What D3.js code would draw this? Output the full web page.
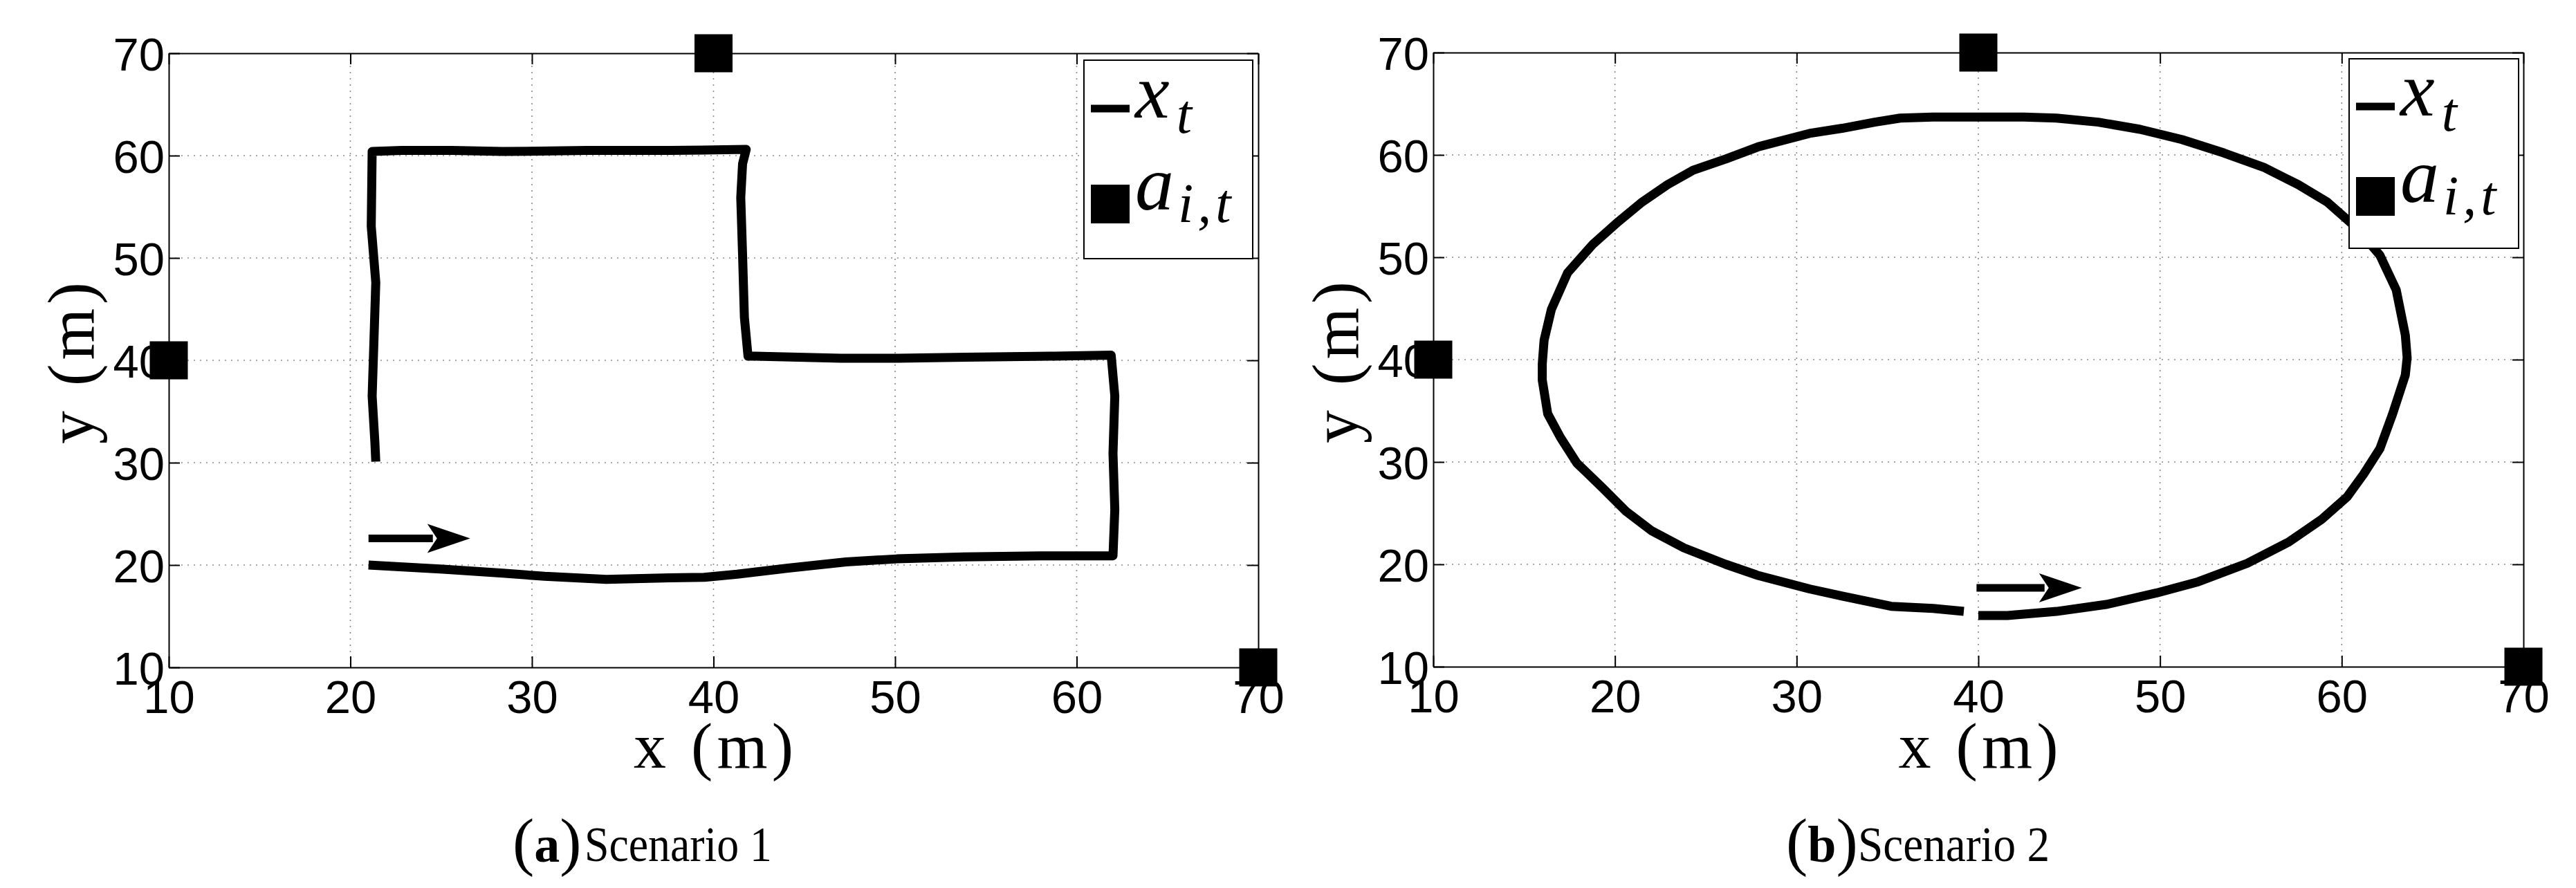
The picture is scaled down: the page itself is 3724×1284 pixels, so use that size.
<!DOCTYPE html>
<html>
<head>
<meta charset="utf-8">
<script src="https://d3js.org/d3.v7.min.js"></script>
<style>
body { margin:0; background:#fff; }
svg { display:block; }
.tick text { font-family:"Liberation Sans", Arial, sans-serif; font-size:67px; fill:#000; }
.axis path, .axis line { stroke:#000; stroke-width:2; }
.grid line { stroke:#8a8a8a; stroke-width:1.6; stroke-dasharray:2,7; }
.serif { font-family:"Liberation Serif", "Times New Roman", serif; fill:#000; }
</style>
</head>
<body>
<script>
// ticks shared by both axes of both panels
var ticks = [10, 20, 30, 40, 50, 60, 70];
var gridTicks = [20, 30, 40, 50, 60];

// anchor positions a_i,t (same in both scenarios)
var anchorX = [40, 10, 70];
var anchorY = [70, 40, 10];

// scenario 1 trajectory (L shape)
var path1X = [21.0, 25.1, 28.4, 30.7, 34.1, 37.6, 39.5, 41.3, 44.1, 47.3, 50.1, 53.8, 58.0, 60.3, 62.0,
              62.1, 62.0, 62.1, 61.9, 58.5, 53.9, 50.2, 47.0, 42.3, 41.9, 41.7, 41.6, 41.5, 41.6, 41.8,
              37.6, 33.0, 28.4, 25.6, 22.8, 21.2, 21.15, 21.4, 21.3, 21.2, 21.35, 21.4];
var path1Y = [20.0, 19.6, 19.2, 18.9, 18.6, 18.75, 18.8, 19.1, 19.7, 20.3, 20.6, 20.8, 20.9, 20.9, 20.9,
              25.4, 30.9, 36.5, 40.5, 40.4, 40.3, 40.2, 40.2, 40.4, 40.4, 44.2, 50.3, 55.9, 59.2, 60.6,
              60.5, 60.5, 60.4, 60.5, 60.5, 60.4, 53.1, 47.6, 42.0, 36.5, 32.0, 30.1];

// scenario 2 trajectory (ellipse)
var path2X = [40.0, 41.6, 44.3, 47.1, 49.8, 52.1, 54.8, 57.1, 58.9, 60.3, 61.2, 62.1, 62.8, 63.5, 63.6,
              63.5, 63.0, 62.1, 60.8, 59.2, 57.6, 55.7, 53.5, 51.2, 48.9, 46.6, 44.3, 42.5, 41.1, 39.8,
              37.5, 35.7, 34.3, 32.5, 30.7, 27.9, 26.1, 24.3, 22.9, 21.5, 20.2, 18.8, 17.4, 16.5, 16.1,
              16.0, 16.0, 16.3, 17.0, 17.9, 19.3, 20.6, 22.0, 23.8, 26.1, 27.9, 30.7, 32.5, 35.2, 37.5, 39.2];
var path2Y = [15.0, 15.0, 15.4, 16.1, 17.2, 18.3, 20.1, 22.2, 24.4, 26.6, 28.8, 31.3, 34.7, 38.5, 40.2,
              42.4, 46.8, 50.2, 52.9, 55.4, 57.1, 58.8, 60.2, 61.5, 62.5, 63.2, 63.6, 63.7, 63.7, 63.7,
              63.7, 63.6, 63.2, 62.6, 62.1, 60.8, 59.6, 58.5, 57.1, 55.4, 53.5, 51.3, 48.5, 44.9, 41.9,
              39.6, 38.0, 34.7, 32.4, 29.9, 27.5, 25.2, 23.3, 21.6, 20.0, 18.9, 17.6, 16.9, 15.9, 15.7, 15.4];

// direction arrows [start, tip] and height
var arrow1X = [21.0, 26.6], arrow1Y = 22.6;
var arrow2X = [39.9, 45.7], arrow2Y = 17.7;

var letters = ["a", "b"];
var captions = ["Scenario 1", "Scenario 2"];

var width = 3724, height = 1284;

var panels = [
  { left:244, right:1819, top:77, bottom:965, px:path1X, py:path1Y, ax:arrow1X, ay:arrow1Y,
    capX:741, capW:271, legend:{ x0:1567, x1:1811, y0:87, y1:374, lineY:157, sqY:295 } },
  { left:2072, right:3648, top:76, bottom:964, px:path2X, py:path2Y, ax:arrow2X, ay:arrow2Y,
    capX:2582, capW:277, legend:{ x0:3396, x1:3641, y0:85, y1:359, lineY:154, sqY:284 } }
];

var svg = d3.select("body").append("svg")
    .attr("width", width)
    .attr("height", height);

svg.append("rect").attr("width", width).attr("height", height).attr("fill", "#fff");

panels.forEach(function(p, i) {
  var x = d3.scaleLinear().domain([10, 70]).range([p.left, p.right]);
  var y = d3.scaleLinear().domain([10, 70]).range([p.bottom, p.top]);
  var g = svg.append("g");

  // dotted grid
  var grid = g.append("g").attr("class", "grid");
  grid.selectAll(".gx").data(gridTicks).enter().append("line")
      .attr("x1", x).attr("x2", x).attr("y1", p.top).attr("y2", p.bottom);
  grid.selectAll(".gy").data(gridTicks).enter().append("line")
      .attr("y1", y).attr("y2", y).attr("x1", p.left).attr("x2", p.right);

  // trajectory
  var pts = p.px.map(function(v, k) { return [v, p.py[k]]; });
  var line = d3.line().x(function(d) { return x(d[0]); }).y(function(d) { return y(d[1]); });
  g.append("path").datum(pts)
      .attr("d", line)
      .attr("fill", "none")
      .attr("stroke", "#000")
      .attr("stroke-width", 13)
      .attr("stroke-linejoin", "round");

  // direction arrow
  var tipX = x(p.ax[1]), ay = y(p.ay), headLen = 62, headW = 21;
  g.append("line")
      .attr("x1", x(p.ax[0])).attr("x2", tipX - headLen + 8)
      .attr("y1", ay).attr("y2", ay)
      .attr("stroke", "#000").attr("stroke-width", 11);
  g.append("path")
      .attr("d", "M" + tipX + "," + ay + "L" + (tipX - headLen) + "," + (ay - headW) +
                 "L" + (tipX - headLen + 14) + "," + ay + "L" + (tipX - headLen) + "," + (ay + headW) + "Z")
      .attr("fill", "#000");

  // box axes with inward ticks
  g.append("g").attr("class", "axis").attr("transform", "translate(0," + p.bottom + ")")
      .call(d3.axisBottom(x).tickValues(ticks).tickSizeInner(-16).tickSizeOuter(0).tickPadding(18));
  g.append("g").attr("class", "axis").attr("transform", "translate(0," + p.top + ")")
      .call(d3.axisTop(x).tickValues(ticks).tickSizeInner(-16).tickSizeOuter(0).tickFormat(""));
  g.append("g").attr("class", "axis").attr("transform", "translate(" + p.left + ",0)")
      .call(d3.axisLeft(y).tickValues(ticks).tickSizeInner(-16).tickSizeOuter(0).tickPadding(6))
      .selectAll("text").attr("dy", "0.37em");
  g.append("g").attr("class", "axis").attr("transform", "translate(" + p.right + ",0)")
      .call(d3.axisRight(y).tickValues(ticks).tickSizeInner(-16).tickSizeOuter(0).tickFormat(""));

  // axis labels
  g.append("text").attr("class", "serif")
      .attr("x", x(40)).attr("y", 1110)
      .attr("text-anchor", "middle")
      .attr("font-size", 94)
      .attr("textLength", 231).attr("lengthAdjust", "spacing")
      .text("x (m)");
  g.append("text").attr("class", "serif")
      .attr("transform", "translate(" + (p.left - 109) + "," + ((p.top + p.bottom) / 2 + 4) + ") rotate(-90)")
      .attr("text-anchor", "middle")
      .attr("font-size", 96)
      .attr("textLength", 234).attr("lengthAdjust", "spacing")
      .text("y (m)");

  // anchors
  g.selectAll(".anchor").data(anchorX).enter().append("rect")
      .attr("x", function(d) { return x(d) - 27.5; })
      .attr("y", function(d, k) { return y(anchorY[k]) - 27.5; })
      .attr("width", 55).attr("height", 55)
      .attr("fill", "#000");

  // legend
  var L = p.legend;
  g.append("rect")
      .attr("x", L.x0).attr("y", L.y0)
      .attr("width", L.x1 - L.x0).attr("height", L.y1 - L.y0)
      .attr("fill", "#fff").attr("stroke", "#000").attr("stroke-width", 2);
  g.append("rect").attr("x", L.x0 + 10).attr("y", L.lineY - 5.5)
      .attr("width", 56).attr("height", 11).attr("fill", "#000");
  g.append("rect").attr("x", L.x0 + 10).attr("y", L.sqY - 28)
      .attr("width", 56).attr("height", 56).attr("fill", "#000");
  var t1 = g.append("text").attr("class", "serif")
      .attr("x", L.x0 + 74).attr("y", L.lineY + 13)
      .attr("font-style", "italic").attr("font-size", 112);
  t1.append("tspan").text("x");
  t1.append("tspan").attr("dy", 22).attr("dx", 10).attr("font-size", 80).text("t");
  var t2 = g.append("text").attr("class", "serif")
      .attr("x", L.x0 + 74).attr("y", L.sqY + 8)
      .attr("font-style", "italic").attr("font-size", 112);
  t2.append("tspan").text("a");
  t2.append("tspan").attr("dy", 18).attr("dx", 6).attr("font-size", 80)
      .attr("letter-spacing", 6).text("i,t");

  // caption
  var cap = svg.append("text").attr("class", "serif")
      .attr("x", p.capX).attr("y", 1248);
  cap.append("tspan").attr("font-size", 94).attr("font-weight", "300").text("(");
  cap.append("tspan").attr("font-size", 74).attr("font-weight", "bold").attr("dy", -2).text(letters[i]);
  cap.append("tspan").attr("font-size", 94).attr("dy", 2).text(")");
  svg.append("text").attr("class", "serif")
      .attr("x", p.capX + 104).attr("y", 1245)
      .attr("font-size", 72)
      .attr("textLength", p.capW).attr("lengthAdjust", "spacingAndGlyphs")
      .text(captions[i]);
});
</script>
</body>
</html>
